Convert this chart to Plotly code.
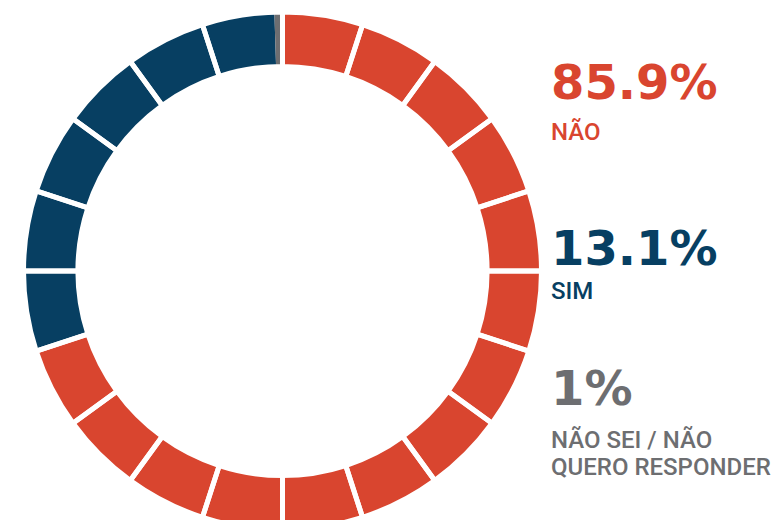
import plotly.graph_objects as go

# ---- data ----
categories = ["NÃO", "SIM", "NÃO SEI / NÃO QUERO RESPONDER"]
percent_labels = ["85.9%", "13.1%", "1%"]
label_lines = [["NÃO"], ["SIM"], ["NÃO SEI / NÃO", "QUERO RESPONDER"]]
ring_share = [70.0, 29.5, 0.5]          # share of the ring painted in each colour
segment_count = 20                      # the ring is cut into 20 equal blocks
segment_names = [f"bloco {i + 1}" for i in range(segment_count)]
segment_values = [1] * segment_count

# ---- style / layout ----
colors = ["#D9452F", "#073F62", "#6D6E71"]
PAGE_OFF = 8                 # default page margin around the plot div
W, H = 782 - PAGE_OFF, 530   # figure box (bottom edge of ring runs past the window)
cx, cy, r_out = 282.5 - PAGE_OFF, 271 - PAGE_OFF, 259.0
hole = 0.79

dom_x = [(cx - r_out) / W, (cx + r_out) / W]
dom_y = [(H - cy - r_out) / H, (H - cy + r_out) / H]

fig = go.Figure()
fig.add_trace(go.Pie(
    labels=categories, values=ring_share, sort=False,
    direction="clockwise", rotation=0, hole=hole,
    marker=dict(colors=colors, line=dict(width=0)),
    textinfo="none", hoverinfo="label",
    domain=dict(x=dom_x, y=dom_y), showlegend=False,
))
fig.add_trace(go.Pie(
    labels=segment_names, values=segment_values, sort=False,
    direction="clockwise", rotation=0, hole=hole,
    marker=dict(colors=["rgba(0,0,0,0)"] * segment_count,
                line=dict(color="white", width=5)),
    textinfo="none", hoverinfo="skip",
    domain=dict(x=dom_x, y=dom_y), showlegend=False,
))

text_x = (549 - PAGE_OFF) / W
big_y = [81.5, 247.5, 387.5]           # vertical centre of each big figure (px from top of window)
small_y = [[131], [291], [439, 467]]   # vertical centre of each label line


def py(v):
    return 1 - (v - PAGE_OFF) / H


ann = []
for i in range(len(categories)):
    ann.append(dict(
        x=text_x, y=py(big_y[i]), xref="paper", yref="paper",
        xanchor="left", yanchor="middle", showarrow=False,
        text=percent_labels[i],
        font=dict(family="DejaVu Sans", size=48, color=colors[i], weight="bold"),
    ))
    for line, yy in zip(label_lines[i], small_y[i]):
        ann.append(dict(
            x=text_x, y=py(yy), xref="paper", yref="paper",
            xanchor="left", yanchor="middle", showarrow=False,
            text=line,
            font=dict(family="Roboto", size=24, color=colors[i], weight=500),
        ))

fig.update_layout(
    width=W, height=H, margin=dict(l=0, r=0, t=0, b=0),
    paper_bgcolor="white", plot_bgcolor="white",
    annotations=ann, showlegend=False,
)
fig.write_html("out.html")
